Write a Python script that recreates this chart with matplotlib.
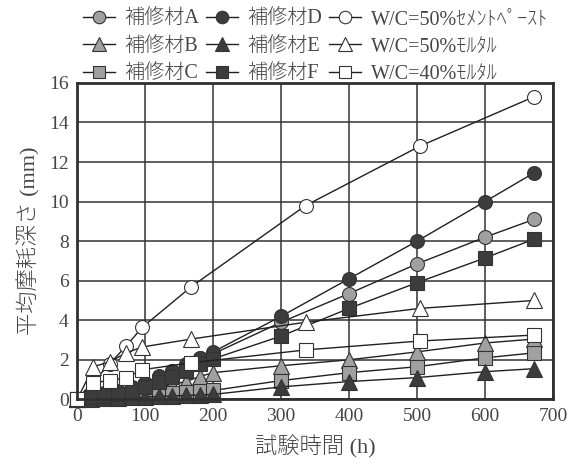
import matplotlib.pyplot as plt
import numpy as np

# 試験時間 (h)
T_REPAIR = [0, 20, 40, 60, 80, 100, 120, 140, 160, 180, 200, 300, 400, 500, 600, 672]
T_REF = [0, 24, 48, 72, 96, 168, 336, 504, 672]

# 平均摩耗深さ (mm)
MAT_A = [0, 0.15, 0.25, 0.35, 0.55, 0.8, 1.2, 1.45, 1.8, 2.1, 2.3, 3.9, 5.35, 6.85, 8.2, 9.1]
MAT_B = [0, 0.1, 0.2, 0.3, 0.4, 0.5, 0.6, 0.75, 0.9, 1.15, 1.35, 1.7, 2.0, 2.4, 2.85, 3.05]
MAT_C = [0, 0.05, 0.1, 0.12, 0.15, 0.2, 0.25, 0.3, 0.35, 0.4, 0.45, 0.95, 1.35, 1.65, 2.1, 2.35]
MAT_D = [0, 0.2, 0.3, 0.4, 0.6, 0.85, 1.15, 1.45, 1.75, 2.1, 2.4, 4.2, 6.1, 8.0, 10.0, 11.45]
MAT_E = [0, 0.03, 0.05, 0.07, 0.1, 0.12, 0.15, 0.17, 0.2, 0.22, 0.25, 0.63, 0.9, 1.1, 1.4, 1.55]
MAT_F = [0, 0.1, 0.15, 0.25, 0.4, 0.65, 0.9, 1.15, 1.45, 1.8, 2.05, 3.2, 4.6, 5.9, 7.15, 8.1]
PASTE_50 = [0, 0.9, 1.8, 2.7, 3.65, 5.7, 9.8, 12.8, 15.3]
MORTAR_50 = [0, 1.65, 1.9, 2.35, 2.65, 3.05, 3.9, 4.6, 5.0]
MORTAR_40 = [0, 0.85, 0.95, 1.1, 1.5, 1.85, 2.5, 2.95, 3.25]

LABELS = ["補修材A", "補修材B", "補修材C", "補修材D", "補修材E", "補修材F",
          "W/C=50%ｾﾒﾝﾄﾍﾟｰｽﾄ", "W/C=50%ﾓﾙﾀﾙ", "W/C=40%ﾓﾙﾀﾙ"]

FONT = ["Liberation Serif", "Noto Sans CJK JP"]
TEXT_COLOR = "#454545"
plt.rcParams["font.family"] = FONT

GRAY = "#a0a0a0"
DARK = "#3c3c3c"
WHITE = "white"

series = [
    (T_REPAIR, MAT_A, "o", GRAY),
    (T_REPAIR, MAT_B, "^", GRAY),
    (T_REPAIR, MAT_C, "s", GRAY),
    (T_REPAIR, MAT_D, "o", DARK),
    (T_REPAIR, MAT_E, "^", DARK),
    (T_REPAIR, MAT_F, "s", DARK),
    (T_REF, PASTE_50, "o", WHITE),
    (T_REF, MORTAR_50, "^", WHITE),
    (T_REF, MORTAR_40, "s", WHITE),
]

fig = plt.figure(figsize=(5.76, 4.66), dpi=100)
ax = fig.add_axes([0.134, 0.143, 0.826, 0.679])

handles = []
for (t, y, marker, face), label in zip(series, LABELS):
    ms = 11 if marker == "^" else 10
    (h,) = ax.plot(t, y, marker=marker, color="#202020", linewidth=1.0,
                   markersize=ms, markerfacecolor=face, markeredgecolor="#333333",
                   markeredgewidth=0.8, label=label, clip_on=False)
    handles.append(h)

ax.set_xlim(0, 700)
ax.set_ylim(0, 16)
ax.set_xticks(np.arange(0, 701, 100))
ax.set_yticks(np.arange(0, 17, 2))
ax.grid(True, color="#333333", linewidth=1.1)
ax.set_axisbelow(True)
ax.tick_params(length=0, labelsize=14, labelcolor=TEXT_COLOR, pad=6)
for spine in ax.spines.values():
    spine.set_linewidth(2.0)
    spine.set_color("#303030")

ax.set_xlabel("試験時間 (h)", fontsize=16, color=TEXT_COLOR, labelpad=8,
              fontweight="light")
ax.set_ylabel("平均摩耗深さ (mm)", fontsize=16, color=TEXT_COLOR, labelpad=6,
              fontweight="light")

leg = fig.legend(handles=handles, loc="upper left", bbox_to_anchor=(0.144, 0.978),
                 ncol=3, frameon=False, handlelength=1.6,
                 handletextpad=0.45, columnspacing=0.35, labelspacing=0.4,
                 borderpad=0.0, borderaxespad=0.0, markerscale=0.9,
                 prop={"family": FONT, "size": 14.5, "weight": "light"})
for text in leg.get_texts():
    text.set_color(TEXT_COLOR)

fig.savefig("out.png", dpi=100)
